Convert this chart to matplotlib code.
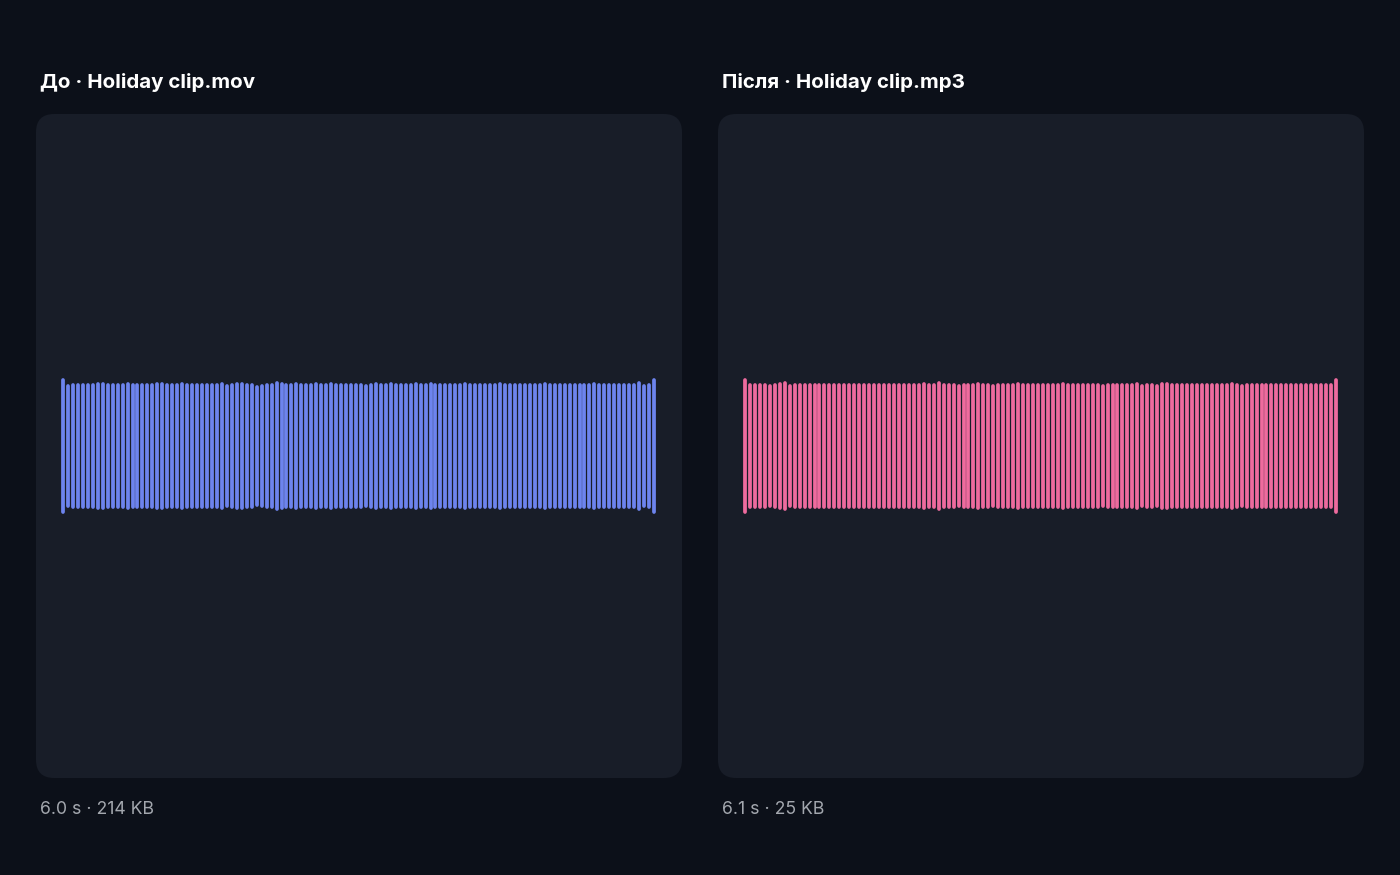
import numpy as np
import matplotlib.pyplot as plt
from matplotlib.patches import FancyBboxPatch

plt.rcParams['font.family'] = ['Inter', 'DejaVu Sans']

# peak amplitude per bar, normalised so the loudest bar is 1.0
before_peaks = [
    1.00, 0.91, 0.93, 0.93, 0.92, 0.92, 0.93, 0.94, 0.94, 0.92,
    0.93, 0.92, 0.93, 0.94, 0.93, 0.92, 0.93, 0.93, 0.93, 0.94,
    0.94, 0.93, 0.92, 0.93, 0.94, 0.93, 0.92, 0.93, 0.93, 0.92,
    0.92, 0.93, 0.94, 0.91, 0.93, 0.94, 0.94, 0.93, 0.92, 0.90,
    0.91, 0.92, 0.93, 0.95, 0.94, 0.92, 0.93, 0.94, 0.93, 0.92,
    0.93, 0.94, 0.93, 0.92, 0.94, 0.93, 0.93, 0.92, 0.93, 0.92,
    0.93, 0.91, 0.93, 0.94, 0.92, 0.93, 0.94, 0.93, 0.93, 0.92,
    0.93, 0.94, 0.92, 0.93, 0.94, 0.93, 0.92, 0.93, 0.93, 0.92,
    0.93, 0.94, 0.93, 0.92, 0.93, 0.93, 0.92, 0.93, 0.94, 0.93,
    0.92, 0.93, 0.93, 0.92, 0.93, 0.92, 0.93, 0.94, 0.92, 0.93,
    0.92, 0.93, 0.93, 0.92, 0.92, 0.93, 0.92, 0.94, 0.92, 0.93,
    0.92, 0.92, 0.93, 0.92, 0.92, 0.93, 0.95, 0.91, 0.92, 1.00,
]
after_peaks = [
    1.00, 0.93, 0.93, 0.93, 0.92, 0.91, 0.92, 0.94, 0.95, 0.91,
    0.92, 0.92, 0.93, 0.93, 0.92, 0.92, 0.93, 0.93, 0.92, 0.92,
    0.93, 0.93, 0.92, 0.93, 0.93, 0.92, 0.93, 0.93, 0.92, 0.93,
    0.93, 0.92, 0.93, 0.93, 0.92, 0.93, 0.94, 0.92, 0.93, 0.95,
    0.92, 0.92, 0.93, 0.91, 0.92, 0.93, 0.93, 0.94, 0.93, 0.92,
    0.91, 0.93, 0.93, 0.92, 0.93, 0.94, 0.92, 0.93, 0.93, 0.92,
    0.92, 0.92, 0.93, 0.92, 0.94, 0.92, 0.93, 0.92, 0.92, 0.93,
    0.93, 0.92, 0.91, 0.93, 0.93, 0.92, 0.93, 0.93, 0.92, 0.94,
    0.91, 0.92, 0.93, 0.91, 0.94, 0.94, 0.93, 0.93, 0.92, 0.92,
    0.93, 0.93, 0.92, 0.93, 0.93, 0.92, 0.92, 0.93, 0.94, 0.92,
    0.91, 0.92, 0.93, 0.93, 0.92, 0.92, 0.93, 0.93, 0.92, 0.92,
    0.93, 0.92, 0.93, 0.93, 0.92, 0.92, 0.93, 0.93, 0.92, 1.00,
]
titles = ['До · Holiday clip.mov', 'Після · Holiday clip.mp3']
footers = ['6.0 s · 214 KB', '6.1 s · 25 KB']
colors = ['#6d84ee', '#ee6b9e']

W, H = 1400, 875
fig = plt.figure(figsize=(W / 100, H / 100), dpi=100, facecolor='#0c1019')

panel_left = [36, 718]
panel_w, panel_top, panel_bot = 646, 114, 778

for i, peaks in enumerate([before_peaks, after_peaks]):
    x0 = panel_left[i]
    # rounded card behind the waveform
    card = FancyBboxPatch((x0 / W, 1 - panel_bot / H), panel_w / W,
                          (panel_bot - panel_top) / H,
                          boxstyle='round,pad=0,rounding_size=0.013',
                          transform=fig.transFigure, facecolor='#181d28',
                          edgecolor='none', mutation_aspect=W / H, zorder=-1)
    fig.patches.append(card)

    ax = fig.add_axes([x0 / W, 1 - panel_bot / H, panel_w / W,
                       (panel_bot - panel_top) / H])
    ax.set_zorder(2)
    ax.set_facecolor('none')
    n = len(peaks)
    x = np.arange(n)
    p = np.array(peaks)
    ax.vlines(x, -p, p, color=colors[i], linewidth=2.7, capstyle='round')
    step = 591 / (n - 1)
    ax.set_xlim(-27 / step, (n - 1) + 28 / step)
    ax.set_ylim(-5.03, 5.03)
    ax.axis('off')

    fig.text((x0 + 4) / W, 1 - 82 / H, titles[i], color='white',
             fontsize=14.8, fontweight='bold', va='center', ha='left')
    fig.text((x0 + 4) / W, 1 - 810 / H, footers[i], color='#a3a7ae',
             fontsize=12.7, va='center', ha='left')

plt.savefig('out.png', dpi=100, facecolor=fig.get_facecolor())
